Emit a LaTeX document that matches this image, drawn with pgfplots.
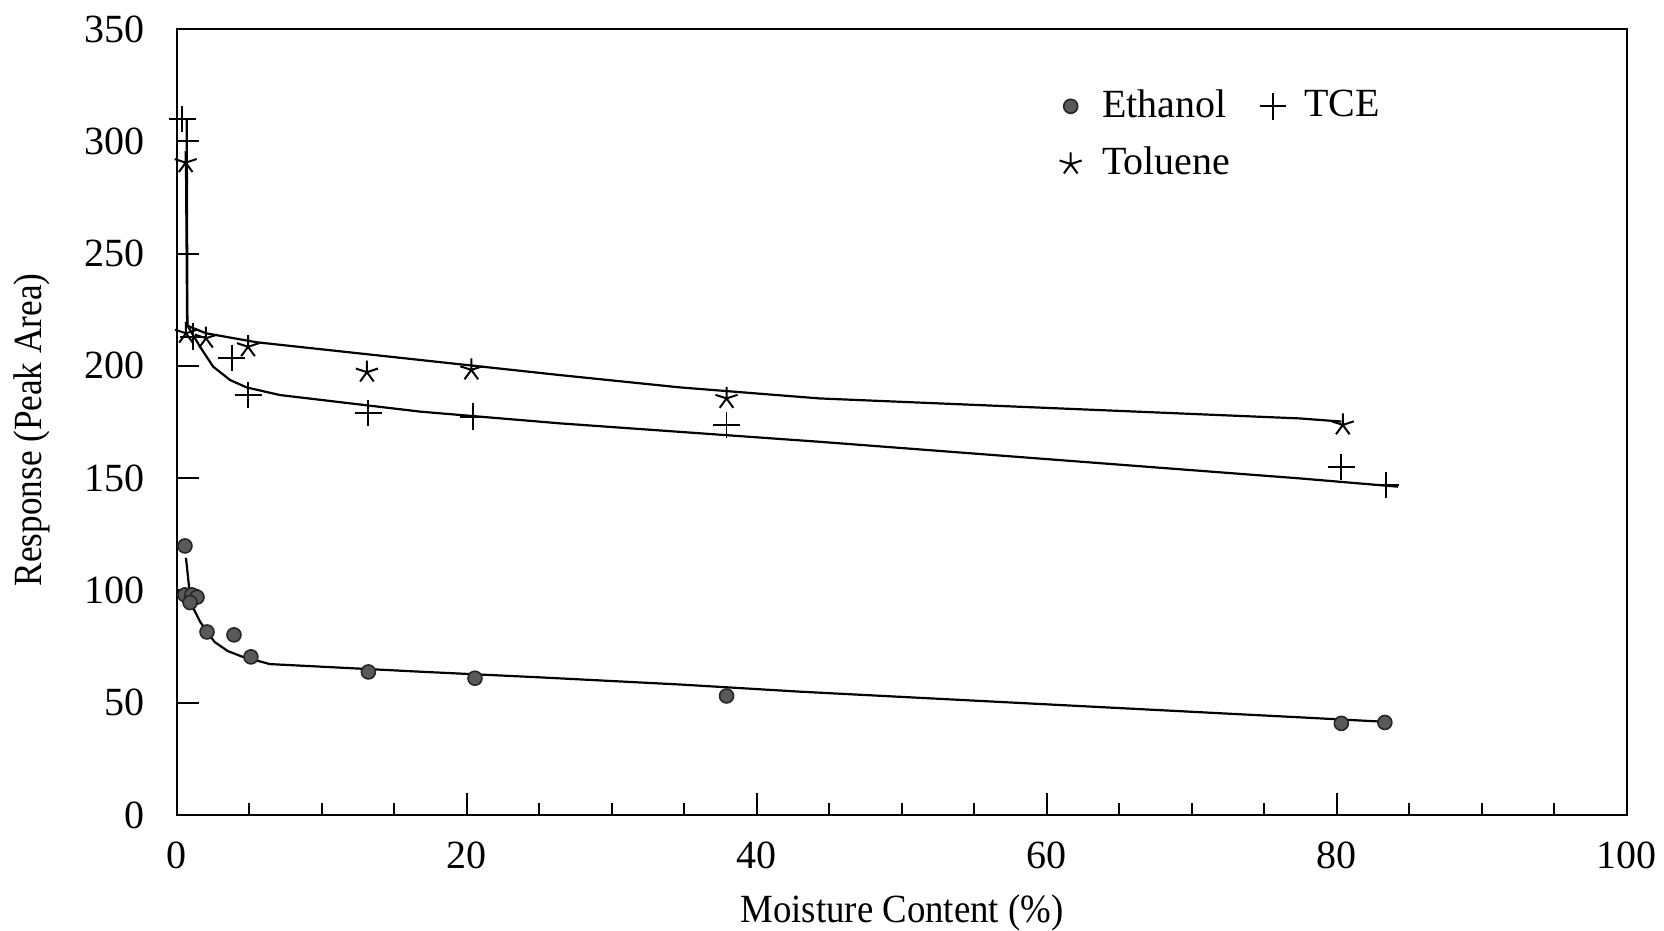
\documentclass[border=0pt]{standalone}
\usepackage{fontspec}
\setmainfont{Liberation Serif}
\usepackage{graphicx}
\usepackage{pgfplots}
\pgfplotsset{compat=1.18}

\begin{document}
\begin{tikzpicture}
\begin{axis}[
  at={(0,0)}, anchor=south west,
  scale only axis,
  width=362.5pt, height=196.5pt,
  xmin=0, xmax=100, ymin=0, ymax=350,
  xtick={0,20,40,60,80,100},
  minor x tick num=3,
  ytick={0,50,100,150,200,250,300,350},
  tick align=inside,
  xtick pos=bottom, ytick pos=left,
  major tick length=5.5pt, minor tick length=3pt,
  axis line style={line width=0.6pt},
  every tick/.style={black, line width=0.5pt},
  font=\fontsize{10}{12}\selectfont,
  /pgf/number format/assume math mode=true,
  yticklabel style={xshift=-4.7pt},
  xticklabel style={yshift=-3.2pt},
  xlabel={\scalebox{0.92}[1]{Moisture Content (\%)}},
  ylabel={\scalebox{0.88}[1]{Response (Peak Area)}},
  xlabel style={at={(axis description cs:0.5,-0.125)}, anchor=center},
  ylabel style={at={(axis description cs:-0.1,0.49)}, anchor=center},
  legend columns=2,
  legend cell align=left,
  legend style={draw=none, fill=none, at={(axis description cs:0.5958,0.9445)}, anchor=north west,
    font=\fontsize{10}{12}\selectfont,
    /tikz/every even column/.append style={column sep=4.4pt},
    row sep=2pt},
  legend image code/.code={\path (-4pt,0pt) (5.6pt,0pt); \draw[#1] plot coordinates {(0pt,0pt)};},
]

% fitted curves
\addplot[black, line width=0.55pt, forget plot] coordinates {
  (0.62,114.5) (0.9,97.4) (1.19,91.3) (1.6,86) (2.09,81.4) (2.6,77) (3.5,73)
  (4.5,70.5) (5.2,69.3) (6.4,67.2) (16.8,63.8) (25.0,61.3) (34.7,58.1)
  (43.0,54.9) (77.4,43.5) (83.0,41.6)};
\addplot[black, line width=0.55pt, forget plot] coordinates {
  (0.67,310) (0.72,218) (0.9,216) (1.59,208.5) (2.5,199.6) (3.66,193.7)
  (4.8,190.4) (7.1,187.0) (16.8,179.6) (26.4,174.4) (34.7,170.6) (44.3,166.2)
  (77.4,149.9) (84.2,146.2)};
\addplot[black, line width=0.55pt, forget plot] coordinates {
  (0.62,290.5) (0.7,218) (0.9,217.4) (2.0,214.5) (5.5,210.5) (16.8,202.6)
  (26.4,195.9) (34.7,190.4) (44.3,185.5) (77.4,176.6) (80.3,175.2)};

% measured responses
\addplot[only marks, mark=*, mark size=1.75pt, draw=black!85, fill=black!65] coordinates {
  (0.55,119.8) (0.55,98) (1.03,98) (1.38,97) (0.9,94.6) (2.07,81.5) (3.93,80.2)
  (5.1,70.4) (13.2,63.7) (20.55,60.9) (37.9,53.0) (80.3,40.8) (83.3,41.2)};
\addlegendentry{Ethanol}
\addplot[only marks, mark=+, mark size=3.3pt, black, line width=0.45pt] coordinates {
  (0.37,310) (1.13,213) (3.77,203.4) (4.92,187.0) (13.2,179) (20.4,177.4)
  (37.9,173.7) (80.3,155) (83.4,147)};
\addlegendentry{TCE}
\addplot[only marks, mark=star, mark size=2.9pt, black, line width=0.5pt] coordinates {
  (0.6,290.5) (0.62,214.5) (2.0,212.3) (4.9,208.5) (13.1,197.2) (20.3,198.2)
  (37.9,185.5) (80.4,173.7)};
\addlegendentry{Toluene}
\end{axis}
\pgfresetboundingbox
\useasboundingbox (-44.25pt,-29pt) rectangle (371.75pt,203.75pt);
\end{tikzpicture}
\end{document}
